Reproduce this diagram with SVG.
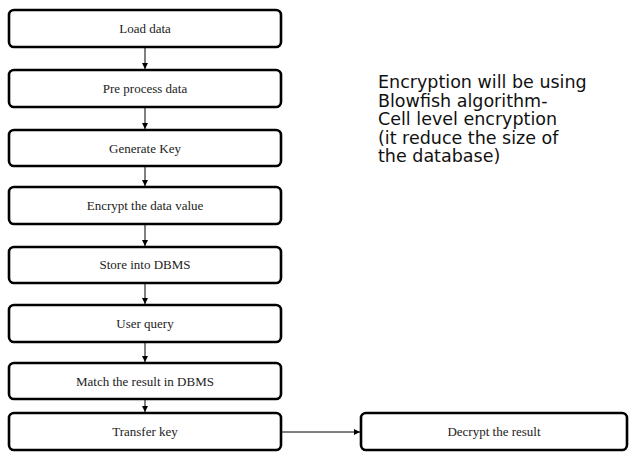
<svg xmlns="http://www.w3.org/2000/svg" width="629" height="452" viewBox="0 0 629 452">
<style>
.box{fill:#fff;stroke:#000;stroke-width:2.6}
.lbl{font-family:"Liberation Serif",serif;font-size:13px;fill:#222;text-anchor:middle}
.con{stroke:#000;stroke-width:1;fill:none}
.note{font-family:"DejaVu Sans",sans-serif;font-size:17.5px;fill:#111}
</style>
<defs>
<marker id="ah" markerWidth="6" markerHeight="6" refX="6" refY="3" orient="auto" markerUnits="userSpaceOnUse">
<path d="M0,0 L6,3 L0,6 z" fill="#000"/>
</marker>
</defs>
<rect width="629" height="452" fill="#fff"/>
<g id="connectors">
<line class="con" x1="145" y1="48" x2="145" y2="69" marker-end="url(#ah)"/>
<line class="con" x1="145" y1="108" x2="145" y2="129" marker-end="url(#ah)"/>
<line class="con" x1="145" y1="167" x2="145" y2="186" marker-end="url(#ah)"/>
<line class="con" x1="145" y1="225" x2="145" y2="246" marker-end="url(#ah)"/>
<line class="con" x1="145" y1="284" x2="145" y2="304" marker-end="url(#ah)"/>
<line class="con" x1="145" y1="343" x2="145" y2="362" marker-end="url(#ah)"/>
<line class="con" x1="145" y1="400" x2="145" y2="412" marker-end="url(#ah)"/>
<line class="con" x1="282" y1="432" x2="360" y2="432" marker-end="url(#ah)"/>
</g>
<g id="n1"><rect class="box" x="9" y="10" width="272" height="37" rx="5"/><text class="lbl" x="145" y="33">Load data</text></g>
<g id="n2"><rect class="box" x="9" y="70" width="272" height="37" rx="5"/><text class="lbl" x="145" y="93">Pre process data</text></g>
<g id="n3"><rect class="box" x="9" y="130" width="272" height="36" rx="5"/><text class="lbl" x="145" y="153">Generate Key</text></g>
<g id="n4"><rect class="box" x="9" y="187" width="272" height="37" rx="5"/><text class="lbl" x="145" y="210">Encrypt the data value</text></g>
<g id="n5"><rect class="box" x="9" y="247" width="272" height="36" rx="5"/><text class="lbl" x="145" y="269">Store into DBMS</text></g>
<g id="n6"><rect class="box" x="9" y="305" width="272" height="37" rx="5"/><text class="lbl" x="145" y="328">User query</text></g>
<g id="n7"><rect class="box" x="9" y="363" width="272" height="36" rx="5"/><text class="lbl" x="145" y="386">Match the result in DBMS</text></g>
<g id="n8"><rect class="box" x="9" y="413" width="272" height="37" rx="5"/><text class="lbl" x="145" y="436">Transfer key</text></g>
<g id="n9"><rect class="box" x="361" y="413" width="266" height="37" rx="5"/><text class="lbl" x="494" y="436">Decrypt the result</text></g>
<g id="note">
<text class="note" x="378" y="88">Encryption will be using</text>
<text class="note" x="378" y="106.5">Blowfish algorithm-</text>
<text class="note" x="378" y="125">Cell level encryption</text>
<text class="note" x="378" y="143.5">(it reduce the size of</text>
<text class="note" x="378" y="162">the database)</text>
</g>
</svg>
